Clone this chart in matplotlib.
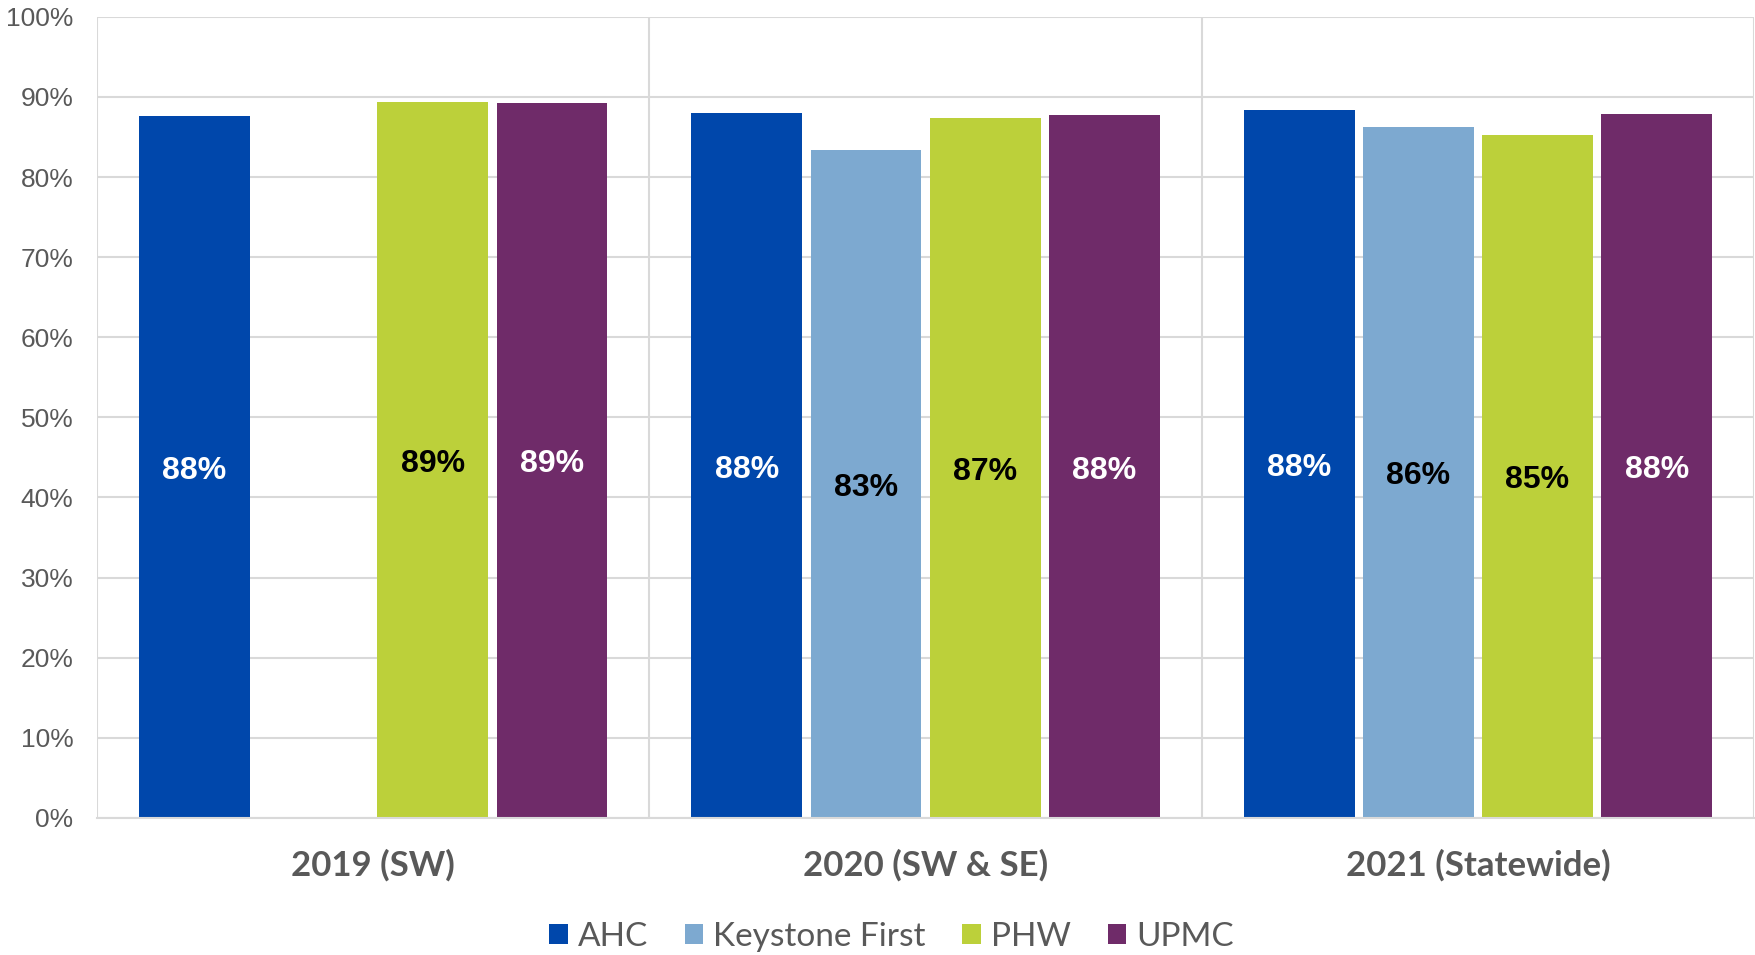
import numpy as np
import matplotlib
matplotlib.use("Agg")
import matplotlib.pyplot as plt
from matplotlib.patches import Patch

categories = ["2019 (SW)", "2020 (SW & SE)", "2021 (Statewide)"]
series_names = ["AHC", "Keystone First", "PHW", "UPMC"]
ahc = [87.6, 88.0, 88.4]
keystone = [np.nan, 83.4, 86.3]
phw = [89.4, 87.4, 85.3]
upmc = [89.3, 87.7, 87.9]
values = [ahc, keystone, phw, upmc]
colors = ["#0047AB", "#7DA9D0", "#BCD03A", "#6F2B69"]
label_colors = ["white", "black", "black", "white"]
yticks = list(range(0, 101, 10))

fig = plt.figure(figsize=(17.55, 9.55), dpi=100)
ax = fig.add_axes([0.0553, 0.1435, 0.9442, 0.8389])

x = np.arange(len(categories))
step = 0.2158
width = 0.2006
for i, (name, vals) in enumerate(zip(series_names, values)):
    xs = x + (i - 1.5) * step
    ax.bar(xs, vals, width=width, color=colors[i], zorder=3, label=name)
    for xx, v in zip(xs, vals):
        if np.isnan(v):
            continue
        ax.annotate(f"{v:.0f}%", (xx, v / 2), xytext=(0, -3), textcoords="offset points",
                    ha="center", va="center",
                    color=label_colors[i], fontsize=23, fontweight="bold",
                    family="Liberation Sans", zorder=4)

ax.set_ylim(0, 100)
ax.set_xlim(-0.5, 2.5)
ax.set_yticks(yticks)
ax.set_yticklabels([f"{t}%" for t in yticks], fontsize=19,
                   family="Liberation Sans", color="#595959")
ax.set_xticks(x)
ax.set_xticklabels(categories, fontsize=25, fontweight="bold",
                   family="Lato", color="#595959")
ax.tick_params(axis="y", length=0, pad=17)
ax.tick_params(axis="x", length=0, pad=22)
ax.grid(axis="y", color="#D9D9D9", linewidth=1.5, zorder=0)
for b in [-0.5, 0.5, 1.5, 2.5]:
    ax.axvline(b, color="#D9D9D9", linewidth=1.5, zorder=1)
for s in ["top", "right", "left"]:
    ax.spines[s].set_visible(False)
ax.spines["bottom"].set_color("#D9D9D9")
ax.spines["bottom"].set_linewidth(1.5)
ax.spines["bottom"].set_zorder(5)

handles = [Patch(facecolor=c, edgecolor="none") for c in colors]
leg = fig.legend(handles, series_names, loc="center", bbox_to_anchor=(0.508, 0.019),
                 ncol=4, frameon=False,
                 prop={"family": "Lato", "size": 24},
                 handlelength=0.56, handleheight=0.56, handletextpad=0.3,
                 columnspacing=1.1)
for t in leg.get_texts():
    t.set_color("#595959")

fig.savefig("out.png", dpi=100)
